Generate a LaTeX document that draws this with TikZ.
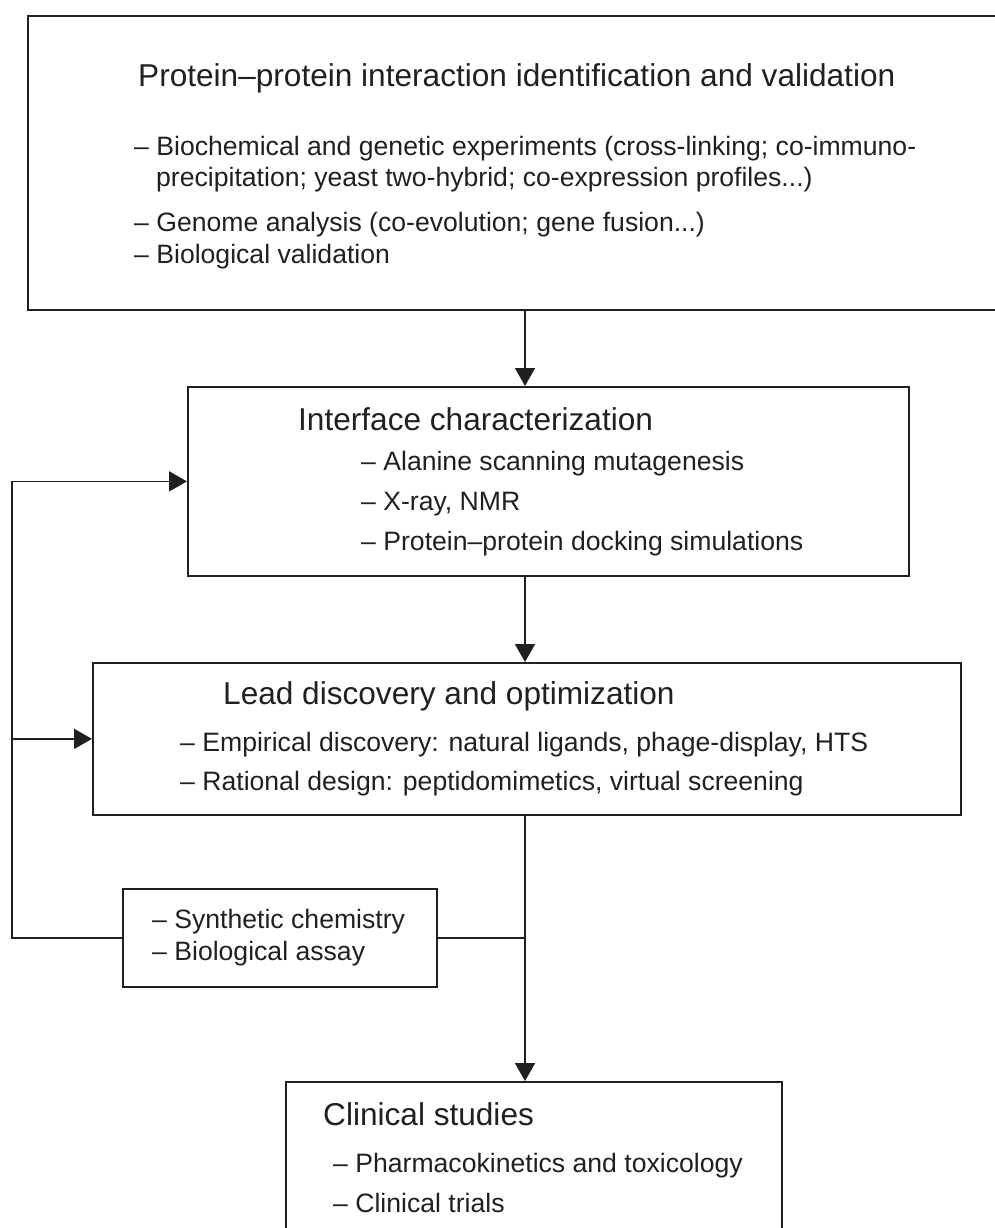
\documentclass[tikz,border=0pt]{standalone}
\usepackage{fontspec}
\setmainfont{Liberation Sans}
\usetikzlibrary{arrows.meta}
\definecolor{ink}{RGB}{35,31,32}
\tikzset{
    box/.style={draw=ink, line width=1.8pt, inner sep=0pt, anchor=north west},
    head/.style={anchor=base west, inner sep=0pt, text=ink, font=\fontsize{31.6}{38}\selectfont},
    item/.style={anchor=base west, inner sep=0pt, text=ink, font=\fontsize{26.6}{32}\selectfont},
    link/.style={draw=ink, line width=1.8pt},
    arr/.style={link, -{Triangle[length=18pt,width=20pt]}}
}
\begin{document}
\begin{tikzpicture}[x=1pt,y=-1pt]
\useasboundingbox (0,0) rectangle (995,1228);
\clip (0,0) rectangle (995,1228);

\node[box, minimum width=983pt, minimum height=294pt] (ppi) at (27,15) {};
\node[box, minimum width=721pt, minimum height=189pt] (iface) at (187,386) {};
\node[box, minimum width=868pt, minimum height=152pt] (lead) at (92,662) {};
\node[box, minimum width=314pt, minimum height=98pt] (synth) at (122,888) {};
\node[box, minimum width=496pt, minimum height=200pt] (clin) at (285,1081) {};

\node[head] (ppiTitle) at (138,87) {Protein--protein interaction identification and validation};
\node[item] (ppiA) at (134,155) {-- Biochemical and genetic experiments (cross-linking; co-immuno-};
\node[item] (ppiA2) at (156,186) {precipitation; yeast two-hybrid; co-expression profiles...)};
\node[item] (ppiB) at (134,231) {-- Genome analysis (co-evolution; gene fusion...)};
\node[item] (ppiC) at (134,263) {-- Biological validation};

\node[head] (ifTitle) at (298,430) {Interface characterization};
\node[item] (ifA) at (361,470) {-- Alanine scanning mutagenesis};
\node[item] (ifB) at (361,510) {-- X-ray, NMR};
\node[item] (ifC) at (361,550) {-- Protein--protein docking simulations};

\node[head] (leadTitle) at (223,704) {Lead discovery and optimization};
\node[item] (leadA) at (180,751) {-- Empirical discovery: natural ligands, phage-display, HTS};
\node[item] (leadB) at (180,790) {-- Rational design: peptidomimetics, virtual screening};

\node[item] (synA) at (152,928) {-- Synthetic chemistry};
\node[item] (synB) at (152,960) {-- Biological assay};

\node[head] (clinTitle) at (323,1125) {Clinical studies};
\node[item] (clinA) at (333,1172) {-- Pharmacokinetics and toxicology};
\node[item] (clinB) at (333,1212) {-- Clinical trials};

\coordinate (spine) at (525,0);
\coordinate (back) at (12,0);

\draw[arr] (ppi.south -| spine) -- (iface.north -| spine);
\draw[arr] (iface.south -| spine) -- (lead.north -| spine);
\draw[arr] (lead.south -| spine) -- (clin.north -| spine);
\draw[link] (synth.east) -- (synth.east -| spine);
\draw[arr] (synth.west) -| (back |- iface.west) -- (iface.west);
\draw[arr] (back |- lead.west) -- (lead.west);
\end{tikzpicture}
\end{document}
